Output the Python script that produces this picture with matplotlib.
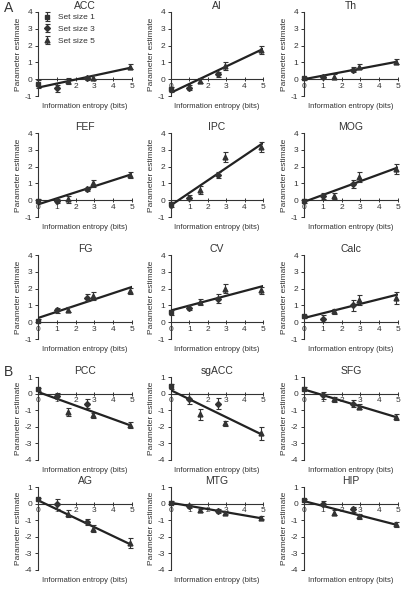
import numpy as np
from matplotlib import pyplot as plt

plt.rcParams['font.family'] = ['Liberation Sans', 'DejaVu Sans']
plt.rcParams['axes.unicode_minus'] = False

# entropy of each condition and which set size it belongs to
entropy = [0, 1, 1.58, 2.58, 2.92, 4.9]
set_size = [1, 3, 5, 3, 5, 5]
marker_for = {1: 's', 3: 'D', 5: '^'}

# panel A (positive relation)
regions_a = ['ACC', 'AI', 'Th', 'FEF', 'IPC', 'MOG', 'FG', 'CV', 'Calc']
means_a = [
    [-0.3, -0.55, -0.1, 0.05, 0.1, 0.75],
    [-0.6, -0.5, -0.1, 0.3, 0.8, 1.75],
    [0.05, 0.15, 0.15, 0.55, 0.75, 1.05],
    [-0.05, -0.05, 0.05, 0.65, 1.0, 1.5],
    [-0.25, 0.15, 0.6, 1.5, 2.55, 3.15],
    [-0.05, 0.25, 0.25, 0.95, 1.4, 1.85],
    [0.1, 0.7, 0.75, 1.45, 1.55, 1.85],
    [0.6, 0.85, 1.2, 1.4, 2.0, 1.9],
    [0.35, 0.2, 0.65, 1.0, 1.3, 1.45],
]
errs_a = [
    [0.25, 0.2, 0.2, 0.1, 0.15, 0.15],
    [0.15, 0.15, 0.15, 0.15, 0.25, 0.25],
    [0.1, 0.1, 0.15, 0.15, 0.15, 0.15],
    [0.1, 0.1, 0.2, 0.1, 0.2, 0.2],
    [0.15, 0.15, 0.25, 0.2, 0.3, 0.3],
    [0.1, 0.2, 0.2, 0.25, 0.3, 0.3],
    [0.1, 0.15, 0.15, 0.2, 0.25, 0.2],
    [0.15, 0.15, 0.2, 0.25, 0.25, 0.2],
    [0.1, 0.2, 0.15, 0.35, 0.3, 0.35],
]
fit_a = [(-0.5, 0.7), (-0.8, 1.8), (0.0, 1.05), (-0.25, 1.55), (-0.3, 3.4),
         (-0.1, 1.95), (0.25, 2.1), (0.7, 2.15), (0.25, 1.65)]

# panel B (negative relation)
regions_b = ['PCC', 'sgACC', 'SFG', 'AG', 'MTG', 'HIP']
means_b = [
    [0.25, -0.15, -1.1, -0.6, -1.3, -1.9],
    [0.45, -0.35, -1.25, -0.6, -1.8, -2.4],
    [0.3, -0.1, -0.35, -0.6, -0.8, -1.4],
    [0.25, 0.0, -0.6, -1.1, -1.5, -2.4],
    [0.05, -0.15, -0.4, -0.45, -0.55, -0.85],
    [0.2, 0.0, -0.55, -0.35, -0.75, -1.25],
]
errs_b = [
    [0.1, 0.2, 0.25, 0.25, 0.15, 0.2],
    [0.15, 0.3, 0.35, 0.35, 0.15, 0.4],
    [0.1, 0.2, 0.15, 0.2, 0.15, 0.2],
    [0.1, 0.3, 0.2, 0.2, 0.2, 0.3],
    [0.1, 0.1, 0.1, 0.1, 0.1, 0.1],
    [0.1, 0.15, 0.15, 0.15, 0.15, 0.15],
]
fit_b = [(0.1, -1.95), (0.2, -2.5), (0.25, -1.45), (0.2, -2.5), (0.05, -0.9), (0.15, -1.3)]

W, H = 405, 599
fig = plt.figure(figsize=(W / 100, H / 100), dpi=100)

col_x = [(38, 132), (171, 263), (304, 398)]
rows_a = [(12, 96), (133, 217), (255, 339)]
rows_b = [(377, 460), (487, 570)]
ink = '#333333'


def panel(box, name, mean, err, fit, ylim, yticks, legend=False):
    (x0, x1), (top, bot) = box
    ax = fig.add_axes([x0 / W, 1 - bot / H, (x1 - x0) / W, (bot - top) / H])
    for sp in ['top', 'right']:
        ax.spines[sp].set_visible(False)
    ax.spines['bottom'].set_position(('data', 0))
    for sp in ['left', 'bottom']:
        ax.spines[sp].set_color(ink)
        ax.spines[sp].set_linewidth(0.8)
    xs = np.array([0, 5])
    ax.plot(xs, fit[0] + (fit[1] - fit[0]) / 5 * xs, color='#222222', lw=1.6, zorder=3)
    for ss in [1, 3, 5]:
        idx = [i for i, s in enumerate(set_size) if s == ss]
        ax.errorbar([entropy[i] for i in idx], [mean[i] for i in idx],
                    yerr=[err[i] for i in idx], fmt=marker_for[ss],
                    ms=3.5 if ss != 3 else 3, color=ink, ecolor=ink, elinewidth=0.8,
                    capsize=1.8, capthick=0.8, clip_on=False, zorder=4,
                    label='Set size %d' % ss)
    ax.set_xlim(0, 5)
    ax.set_ylim(*ylim)
    ax.set_xticks(range(6))
    ax.set_yticks(yticks)
    ax.tick_params(axis='x', direction='inout', length=3, width=0.7, colors=ink,
                   labelsize=6, pad=1)
    ax.tick_params(axis='y', direction='out', length=2.5, width=0.7, colors=ink,
                   labelsize=6, pad=1.5)
    ax.set_title(name, fontsize=7.5, color=ink, pad=2)
    ax.set_ylabel('Parameter estimate', fontsize=6, color=ink, labelpad=2)
    ax.text(0.5, -0.08, 'Information entropy (bits)', transform=ax.transAxes,
            ha='center', va='top', fontsize=5.5, color=ink)
    ax.patch.set_alpha(0)
    if legend:
        ax.legend(loc='upper left', bbox_to_anchor=(0.0, 1.04), frameon=False,
                  fontsize=6, handlelength=1, handletextpad=0.8, labelspacing=0.45,
                  borderaxespad=0.2, labelcolor=ink)
    return ax


for k, name in enumerate(regions_a):
    r, c = divmod(k, 3)
    panel((col_x[c], rows_a[r]), name, means_a[k], errs_a[k], fit_a[k],
          (-1, 4), range(-1, 5), legend=(k == 0))

for k, name in enumerate(regions_b):
    r, c = divmod(k, 3)
    panel((col_x[c], rows_b[r]), name, means_b[k], errs_b[k], fit_b[k],
          (-4, 1), range(-4, 2))

fig.text(4 / W, 1 - 8 / H, 'A', fontsize=10, color=ink, va='center')
fig.text(4 / W, 1 - 372 / H, 'B', fontsize=10, color=ink, va='center')

plt.savefig('out.png', dpi=100)
